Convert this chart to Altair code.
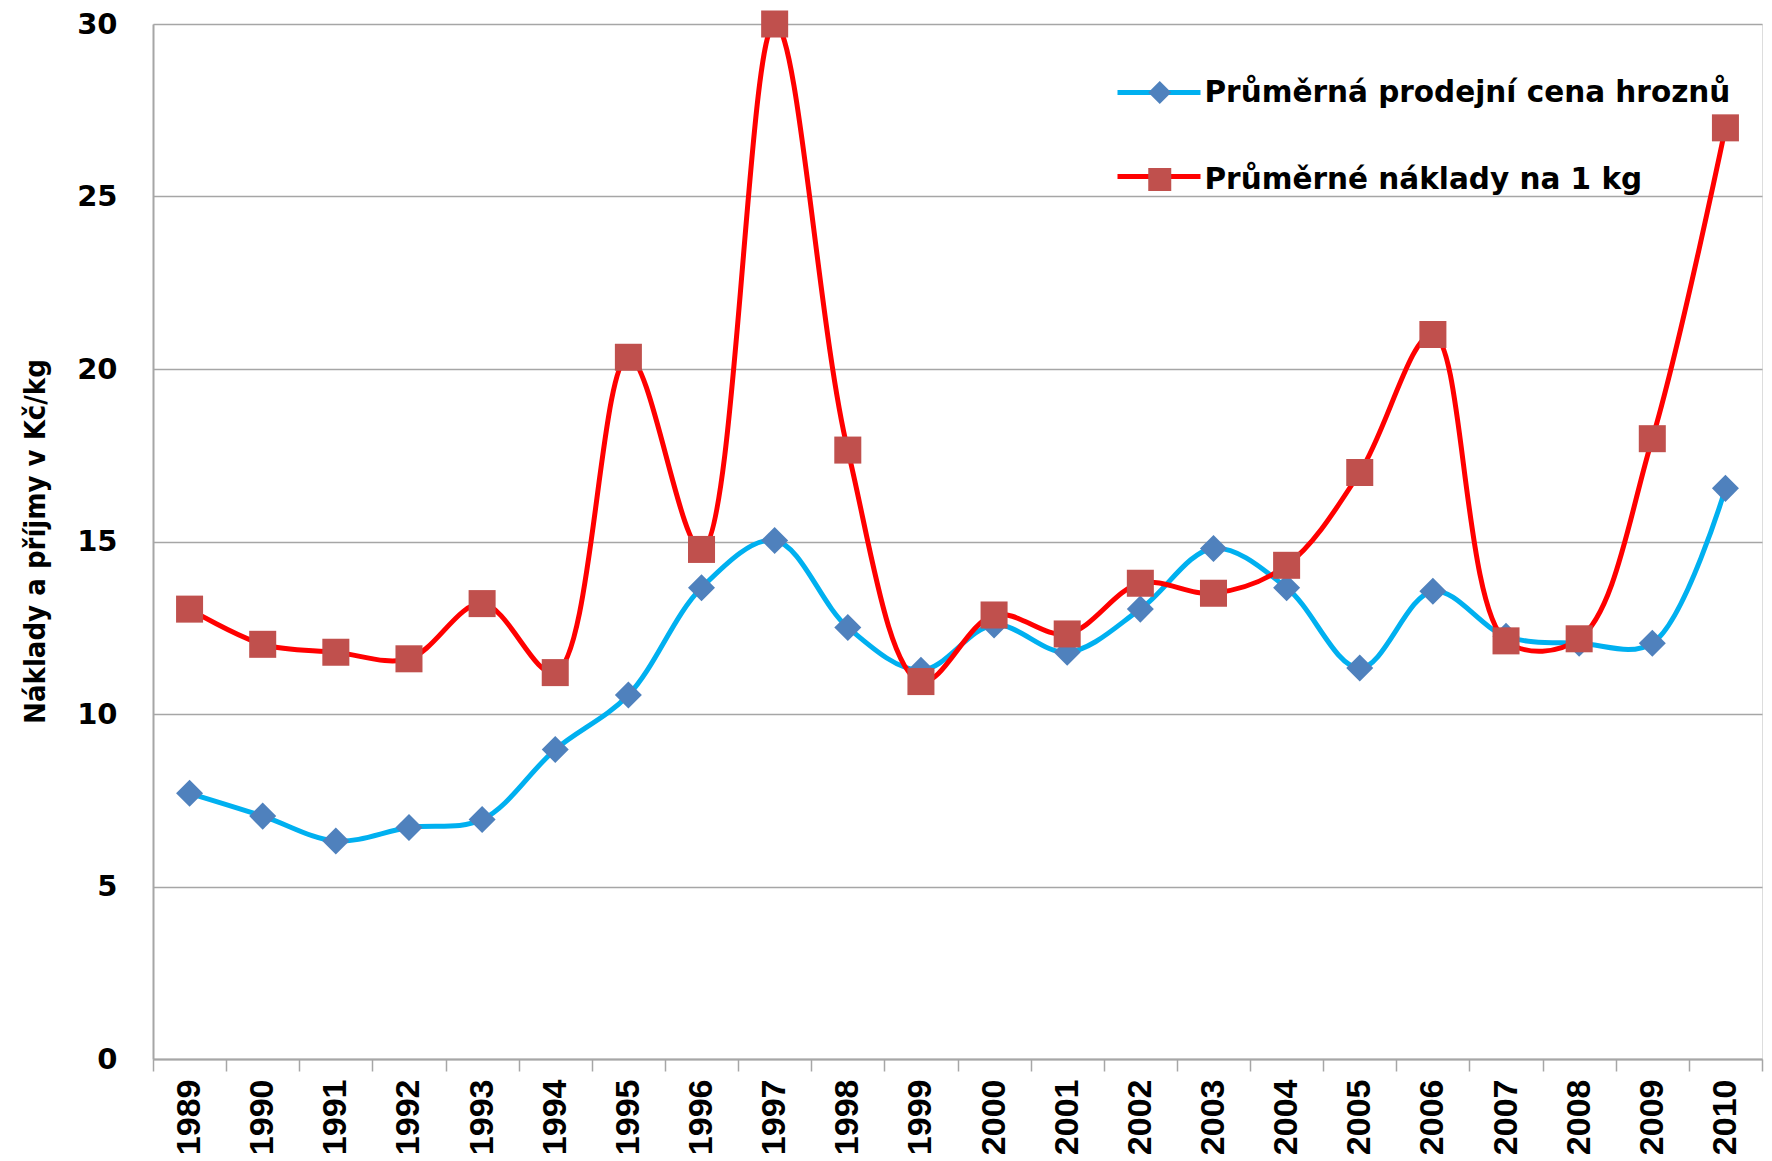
import altair as alt
import pandas as pd

years = ["1989", "1990", "1991", "1992", "1993", "1994", "1995", "1996", "1997", "1998", "1999",
         "2000", "2001", "2002", "2003", "2004", "2005", "2006", "2007", "2008", "2009", "2010"]
price = [7.70, 7.04, 6.32, 6.71, 6.94, 8.97, 10.55, 13.66, 15.03, 12.51, 11.27,
         12.58, 11.79, 13.04, 14.80, 13.66, 11.33, 13.56, 12.25, 12.05, 12.05, 16.54]
cost = [13.04, 12.02, 11.79, 11.60, 13.20, 11.20, 20.34, 14.77, 30.00, 17.65, 10.94,
        12.87, 12.32, 13.79, 13.50, 14.31, 17.00, 21.00, 12.12, 12.18, 17.98, 26.99]
series_names = ["Průměrná prodejní cena hroznů", "Průměrné náklady na 1 kg"]
line_colors = ["#00B0F0", "#FF0000"]
marker_colors = ["#4F81BD", "#C0504D"]
marker_shapes = ["diamond", "square"]
y_ticks = [0, 5, 10, 15, 20, 25, 30]
y_title = "Náklady a příjmy v Kč/kg"

rows = []
for name, vals in zip(series_names, [price, cost]):
    for yr, v in zip(years, vals):
        rows.append({"year": yr, "value": v, "series": name})
df = pd.DataFrame(rows)

GRID = "#A6A6A6"

x_enc = alt.X(
    "year:N", sort=years,
    scale=alt.Scale(type="band", paddingInner=0, paddingOuter=0),
    axis=alt.Axis(title=None, labelAngle=-90, labelFont="Liberation Sans", labelFontSize=34,
                  labelFontWeight="bold", labelColor="black", tickBand="extent", tickSize=12,
                  tickColor=GRID, tickWidth=1.5, domainColor=GRID, domainWidth=2,
                  labelPadding=8, grid=False),
)
y_enc = alt.Y(
    "value:Q",
    scale=alt.Scale(domain=[0, 30], nice=False),
    axis=alt.Axis(values=y_ticks, title=y_title, titleFont="Liberation Sans Narrow, DejaVu Sans Condensed",
                  titleFontSize=29, titleFontWeight="bold", titleColor="black", titleAngle=270,
                  titleAlign="center", titleBaseline="middle", titleX=-118, titleY=517,
                  labelFont="DejaVu Sans", labelFontSize=29, labelFontWeight="bold", labelColor="black",
                  labelPadding=36, ticks=False, domainColor=GRID, domainWidth=2,
                  grid=True, gridColor=GRID, gridWidth=1.5),
)

base = alt.Chart(df)

lines = base.mark_line(interpolate="catmull-rom", strokeWidth=5).encode(
    x=x_enc, y=y_enc,
    color=alt.Color("series:N", scale=alt.Scale(domain=series_names, range=line_colors),
                    legend=alt.Legend(title=None, orient="none", legendX=962, legendY=55,
                                      symbolType="stroke", symbolSize=6889, symbolStrokeWidth=5,
                                      clipHeight=27, rowPadding=57, padding=0,
                                      labelExpr="''", labelFontSize=1)),
    order=alt.Order("year:N"),
)

leg2 = alt.Legend(title=None, orient="none", legendX=992, legendY=55, symbolSize=529,
                  clipHeight=27, rowPadding=57, padding=0, labelOffset=30,
                  labelFontSize=29.5, labelFont="DejaVu Sans", labelFontWeight="bold",
                  labelColor="black", labelLimit=800)

points = base.mark_point(filled=True, size=730, opacity=1).encode(
    x=x_enc, y=y_enc,
    fill=alt.Fill("series:N", scale=alt.Scale(range=marker_colors), legend=leg2),
    shape=alt.Shape("series:N", scale=alt.Scale(range=marker_shapes), legend=leg2),
)

chart = alt.layer(lines, points).properties(
    width=1609, height=1035,
    autosize=alt.AutoSizeParams(type="none"),
    padding={"left": 145, "top": 16, "right": 2, "bottom": 98},
).configure_view(strokeWidth=0).configure(background="white")

chart.save("out.html", embed_options={"renderer": "svg", "actions": False})
